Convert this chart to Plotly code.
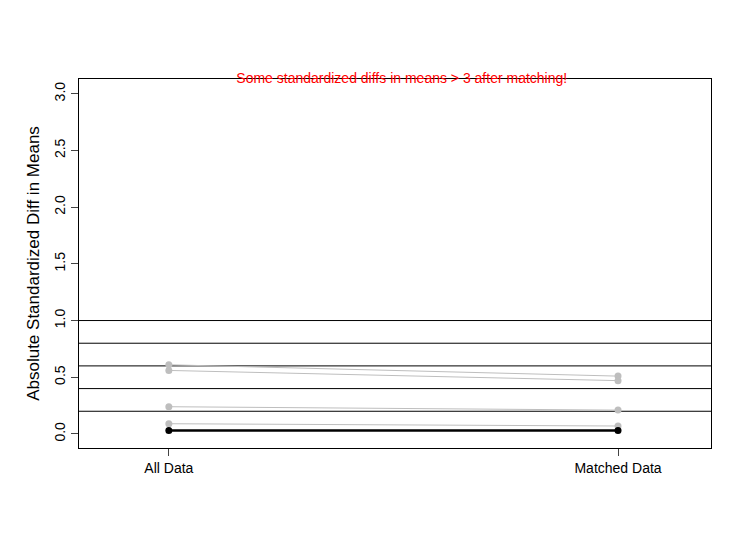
import plotly.graph_objects as go

groups = ["All Data", "Matched Data"]
all_data = [0.61, 0.56, 0.24, 0.09, 0.03]
matched = [0.51, 0.47, 0.21, 0.07, 0.03]
colors = ["#bebebe", "#bebebe", "#bebebe", "#bebebe", "black"]
ref_lines = [0.2, 0.4, 0.6, 0.8, 1.0]
yticks = [0.0, 0.5, 1.0, 1.5, 2.0, 2.5, 3.0]

fig = go.Figure()
for a, m, c in zip(all_data, matched, colors):
    fig.add_trace(go.Scatter(
        x=[1, 2], y=[a, m], mode="lines+markers",
        line=dict(color=c, width=2.5 if c == "black" else 1),
        marker=dict(color=c, size=7), showlegend=False))

for r in ref_lines:
    fig.add_hline(y=r, line=dict(color="black", width=1), layer="below")

fig.update_layout(
    width=750, height=545, plot_bgcolor="white", paper_bgcolor="white",
    margin=dict(l=71, r=47, t=71, b=105),
    font=dict(family="Liberation Sans, Arial", size=14, color="black"),
    title=dict(text="Some standardized diffs in means > 3 after matching!",
               font=dict(color="red", size=14), x=0.525, xanchor="center",
               y=0.872, yanchor="middle"),
)
fig.update_xaxes(range=[0.8, 2.207], tickvals=[1, 2], ticktext=groups,
                 showgrid=False, zeroline=False, showline=True, mirror=True,
                 linecolor="black", ticks="outside", ticklen=7)
fig.update_yaxes(range=[-0.124, 3.13], tickvals=yticks,
                 ticktext=[f"{v:.1f}" for v in yticks], tickangle=-90,
                 title=dict(text="Absolute Standardized Diff in Means", standoff=8),
                 showgrid=False, zeroline=False, showline=True, mirror=True,
                 linecolor="black", ticks="outside", ticklen=7)

fig.write_html("out.html")
